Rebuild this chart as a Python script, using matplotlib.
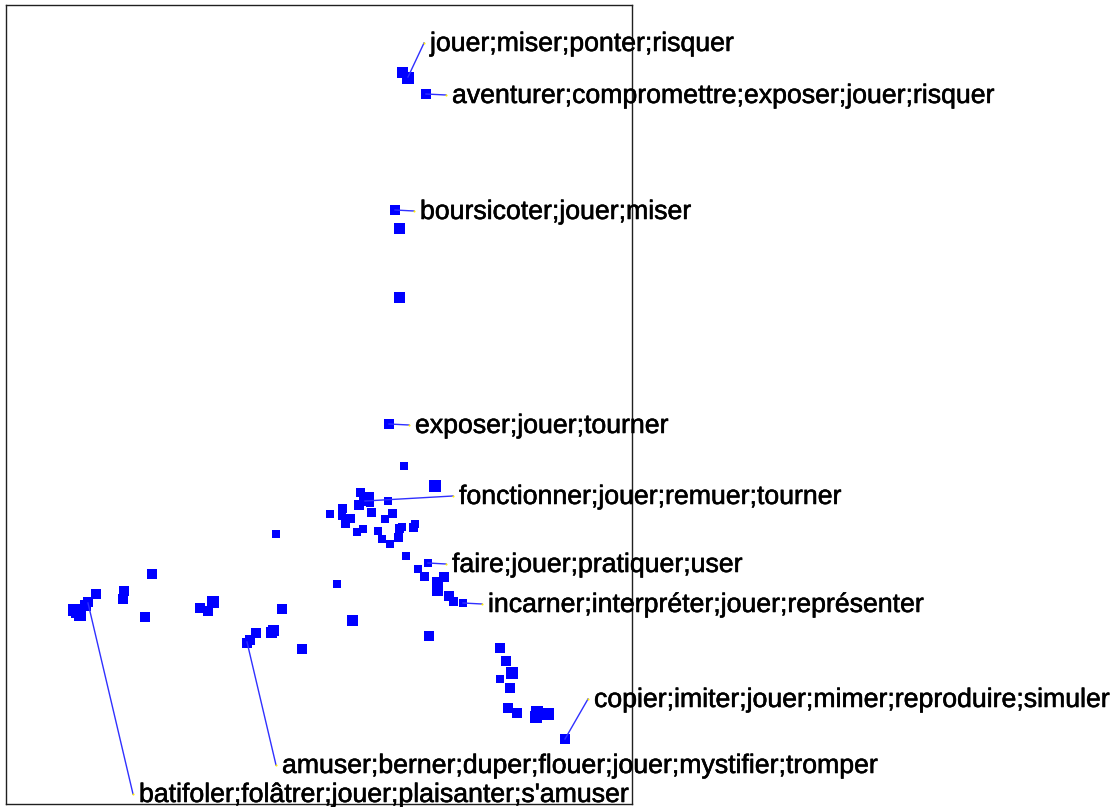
import matplotlib
matplotlib.use('Agg')
import matplotlib.pyplot as plt
import matplotlib.patheffects as pe

# point coordinates (pixel-like units, y grows downward)
px = [402, 408, 426, 395, 399, 399, 389, 404, 435,
      360, 369, 363, 359, 370, 388, 342, 371, 392, 330, 342, 350, 345, 385,
      357, 363, 378, 382, 390, 398, 399, 402, 413, 415, 406,
      428, 418, 424, 437, 444, 437, 449, 453, 463, 337, 352, 429,
      152, 96, 124, 123, 74, 80, 85, 88, 77, 145, 200, 208, 213, 282,
      256, 250, 247, 273, 271, 302, 276,
      500, 506, 512, 500, 510, 508, 517, 537, 536, 548, 565]
py = [72, 78, 94, 210, 228, 297, 424, 466, 486,
      492, 496, 501, 505, 503, 501, 508, 512, 513, 514, 516, 518, 523, 519,
      532, 529, 531, 539, 544, 537, 528, 527, 527, 524, 556,
      563, 569, 576, 582, 577, 590, 596, 601, 603, 584, 620, 636,
      574, 594, 591, 599, 610, 615, 605, 602, 612, 617, 608, 611, 602, 609,
      633, 640, 643, 630, 632, 649, 534,
      648, 661, 673, 679, 688, 708, 713, 712, 717, 714, 739]
psize = [9, 10, 8, 8, 9, 9, 8, 6, 10,
         7, 7, 7, 8, 6, 6, 7, 7, 7, 6, 6, 7, 7, 6,
         6, 6, 6, 6, 6, 7, 7, 6, 7, 6, 6,
         6, 6, 7, 9, 8, 9, 8, 7, 6, 6, 9, 8,
         8, 8, 8, 8, 10, 10, 9, 8, 10, 8, 8, 8, 10, 8,
         8, 8, 8, 9, 9, 8, 6,
         8, 8, 10, 6, 8, 8, 8, 10, 10, 10, 8]

labels = ["jouer;miser;ponter;risquer",
          "aventurer;compromettre;exposer;jouer;risquer",
          "boursicoter;jouer;miser",
          "exposer;jouer;tourner",
          "fonctionner;jouer;remuer;tourner",
          "faire;jouer;pratiquer;user",
          "incarner;interpréter;jouer;représenter",
          "copier;imiter;jouer;mimer;reproduire;simuler",
          "amuser;berner;duper;flouer;jouer;mystifier;tromper",
          "batifoler;folâtrer;jouer;plaisanter;s'amuser"]
# anchor point of each label
lab_x = [408, 426, 395, 389, 365, 428, 463, 565, 247, 88]
lab_y = [77, 94, 210, 424, 501, 563, 603, 739, 642, 603]
# end of leader line / text position
txt_x = [424, 446, 414, 409, 453, 446, 482, 588, 276, 133]
txt_y = [43, 95, 211, 425, 496, 564, 604, 699, 765, 794]

W, H = 1118, 807
fig = plt.figure(figsize=(W / 100, H / 100), dpi=100)
ax = fig.add_axes([6 / W, 3 / H, 626 / W, 799 / H])
ax.set_xlim(6, 632)
ax.set_ylim(804, 5)
ax.set_xticks([])
ax.set_yticks([])
for sp in ax.spines.values():
    sp.set_linewidth(1.0)
    sp.set_color('#202020')

ax.scatter(px, py, s=[((v + 2) * 0.72) ** 2 for v in psize], marker='s',
           color='#0000ff', linewidths=0, zorder=3)

for i in range(len(labels)):
    ax.plot([lab_x[i], txt_x[i]], [lab_y[i], txt_y[i]], color='#3030ff',
            lw=1.0, zorder=4, clip_on=False)
    ax.plot([txt_x[i]], [txt_y[i]], marker='o', ms=1.5, color='#ffee00',
            mew=0, zorder=5, clip_on=False)
    ax.text(txt_x[i] + 6, txt_y[i] + 1, labels[i], fontsize=19.2,
            family='Liberation Sans', va='center', ha='left', zorder=6,
            clip_on=False,
            path_effects=[pe.withStroke(linewidth=0.4, foreground='black')])

fig.savefig('out.png', dpi=100)
